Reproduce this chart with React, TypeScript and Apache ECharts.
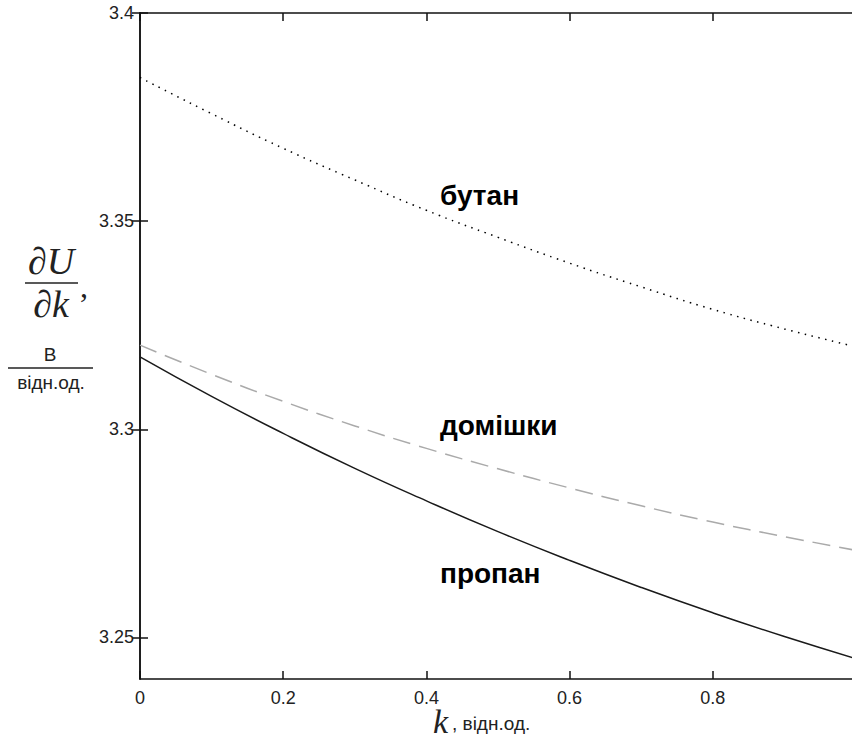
import React, { useEffect, useRef } from "react";
import * as echarts from "echarts";

const kValues = [0, 0.1, 0.2, 0.3, 0.4, 0.5, 0.6, 0.7, 0.8, 0.9, 1.0];
const butane = [3.3845, 3.3758, 3.3675, 3.3599, 3.3526, 3.3461, 3.3399, 3.3342, 3.3288, 3.3241, 3.3198];
const impurities = [3.3202, 3.3132, 3.3067, 3.3008, 3.2954, 3.2905, 3.2859, 3.2816, 3.2777, 3.2742, 3.2709];
const propane = [3.3174, 3.3079, 3.299, 3.2906, 3.2828, 3.2754, 3.2685, 3.262, 3.2559, 3.2502, 3.2449];
const yTicks = [3.25, 3.3, 3.35, 3.4];
const xTicks = [0, 0.2, 0.4, 0.6, 0.8];
const seriesNames = ["бутан", "домішки", "пропан"];

const pairs = (ys: number[]) => kValues.map((k, i) => [k, ys[i]]);

export default function App() {
  const ref = useRef<HTMLDivElement>(null);
  useEffect(() => {
    if (!ref.current) return;
    const chart = echarts.init(ref.current, null, { renderer: "svg" });
    const axisLine = { show: true, lineStyle: { color: "#111", width: 1.5 } };
    const tickStyle = { lineStyle: { color: "#111", width: 1.5 } };
    const labelFont = { fontFamily: "Liberation Sans, Arial, sans-serif", fontSize: 18, color: "#222" };
    const sans = "'Liberation Sans', Arial, sans-serif";
    const serif = "'Liberation Serif', 'DejaVu Serif', serif";
    chart.setOption({
      animation: false,
      backgroundColor: "#fff",
      grid: { left: 140, right: 14, top: 13, bottom: 66, containLabel: false },
      xAxis: [
        {
          type: "value", min: 0, max: 1, interval: 0.2, position: "bottom",
          axisLine, splitLine: { show: false },
          axisTick: { show: true, inside: true, length: 8, customValues: xTicks, ...tickStyle },
          axisLabel: { ...labelFont, margin: 10, customValues: xTicks, formatter: (v: number) => String(v) },
        },
        {
          type: "value", min: 0, max: 1, interval: 0.2, position: "top",
          axisLine, splitLine: { show: false },
          axisTick: { show: true, inside: true, length: 8, customValues: xTicks, ...tickStyle },
          axisLabel: { show: false },
        },
      ],
      yAxis: [
        {
          type: "value", min: 3.24, max: 3.4, position: "left",
          axisLine, splitLine: { show: false },
          axisTick: { show: true, inside: true, length: 8, customValues: yTicks, ...tickStyle },
          axisLabel: { ...labelFont, margin: 6, customValues: yTicks, formatter: (v: number) => String(v) },
        },
        {
          type: "value", min: 3.24, max: 3.4, position: "right",
          axisLine, splitLine: { show: false },
          axisTick: { show: true, inside: true, length: 8, customValues: yTicks, ...tickStyle },
          axisLabel: { show: false },
        },
      ],
      series: [
        {
          name: seriesNames[0], type: "line", smooth: true, showSymbol: false, data: pairs(butane),
          lineStyle: { color: "#000", width: 1.5, type: [1.5, 5.5] },
        },
        {
          name: seriesNames[1], type: "line", smooth: true, showSymbol: false, data: pairs(impurities),
          lineStyle: { color: "#aaaaaa", width: 1.5, type: [18, 9] },
        },
        {
          name: seriesNames[2], type: "line", smooth: true, showSymbol: false, data: pairs(propane),
          lineStyle: { color: "#1a1a1a", width: 1.5 },
        },
      ],
      graphic: [
        { type: "text", left: 440, top: 181, style: { text: seriesNames[0], font: `bold 28px ${sans}`, fill: "#000" } },
        { type: "text", left: 440, top: 411, style: { text: seriesNames[1], font: `bold 28px ${sans}`, fill: "#000" } },
        { type: "text", left: 440, top: 559, style: { text: seriesNames[2], font: `bold 28px ${sans}`, fill: "#000" } },
        { type: "text", x: 51, y: 280, style: { text: "∂U", font: `italic 38px ${serif}`, fill: "#222", align: "center", verticalAlign: "bottom" } },
        { type: "line", shape: { x1: 25, y1: 283, x2: 78, y2: 283 }, style: { stroke: "#222", lineWidth: 1.5 } },
        { type: "text", x: 51, y: 285, style: { text: "∂k", font: `italic 38px ${serif}`, fill: "#222", align: "center", verticalAlign: "top" } },
        { type: "text", x: 80, y: 270, style: { text: ",", font: `32px ${serif}`, fill: "#222" } },
        { type: "text", x: 50, y: 364, style: { text: "В", font: `19px ${sans}`, fill: "#222", align: "center", verticalAlign: "bottom" } },
        { type: "line", shape: { x1: 8, y1: 368, x2: 93, y2: 368 }, style: { stroke: "#222", lineWidth: 1.5 } },
        { type: "text", x: 51, y: 373, style: { text: "відн.од.", font: `19px ${sans}`, fill: "#222", align: "center", verticalAlign: "top" } },
        { type: "text", x: 433, y: 738, style: { text: "k", font: `italic 34px ${serif}`, fill: "#222", verticalAlign: "bottom" } },
        { type: "text", x: 452, y: 733, style: { text: ", відн.од.", font: `19px ${sans}`, fill: "#222", verticalAlign: "bottom" } },
      ],
    });
    return () => chart.dispose();
  }, []);
  return (
    <div style={{ position: "absolute", left: 0, top: 0, width: 852, height: 745, overflow: "hidden", background: "#fff" }}>
      <div ref={ref} style={{ width: 870, height: 745 }} />
    </div>
  );
}
